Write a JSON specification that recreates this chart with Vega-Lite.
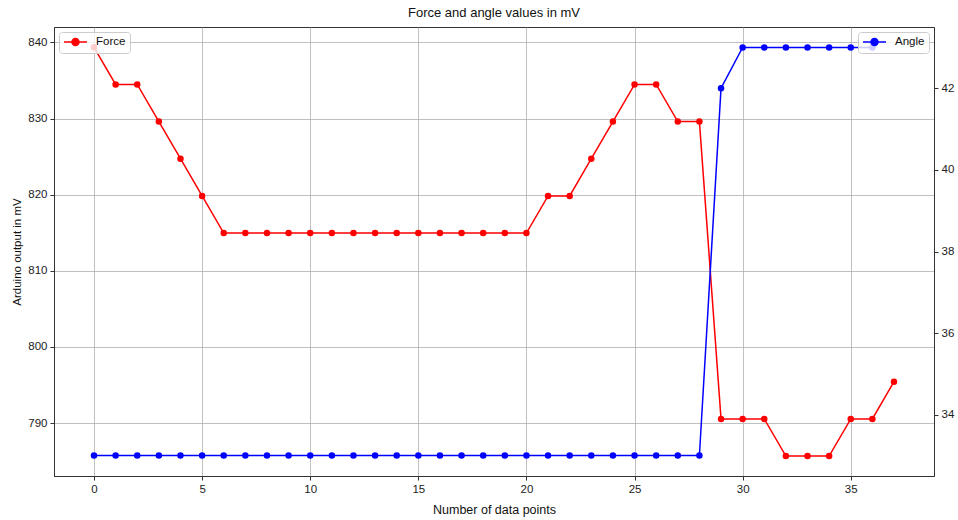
{
  "$schema": "https://vega.github.io/schema/vega-lite/v6.json",
  "width": 880,
  "height": 449,
  "autosize": {"type": "none"},
  "padding": {"left": 54, "top": 27, "right": 24, "bottom": 44},
  "title": {"text": "Force and angle values in mV", "fontSize": 13, "fontWeight": "normal", "font": "Liberation Sans", "color": "#111111", "offset": 7},
  "config": {
    "view": {"stroke": "#333333", "strokeWidth": 1},
    "axis": {
      "labelFont": "Liberation Sans", "labelFontSize": 11.5, "labelColor": "#222222",
      "titleFont": "Liberation Sans", "titleFontWeight": "normal", "titleColor": "#111111",
      "tickColor": "#333333", "domainColor": "#333333", "tickSize": 4, "labelPadding": 3,
      "gridColor": "#b0b0b0", "gridWidth": 1, "gridOpacity": 0.8
    }
  },
  "data": {
    "values": [
      {"n": 0, "force": 839.36, "angle": 33},
      {"n": 1, "force": 834.48, "angle": 33},
      {"n": 2, "force": 834.48, "angle": 33},
      {"n": 3, "force": 829.6, "angle": 33},
      {"n": 4, "force": 824.72, "angle": 33},
      {"n": 5, "force": 819.84, "angle": 33},
      {"n": 6, "force": 814.96, "angle": 33},
      {"n": 7, "force": 814.96, "angle": 33},
      {"n": 8, "force": 814.96, "angle": 33},
      {"n": 9, "force": 814.96, "angle": 33},
      {"n": 10, "force": 814.96, "angle": 33},
      {"n": 11, "force": 814.96, "angle": 33},
      {"n": 12, "force": 814.96, "angle": 33},
      {"n": 13, "force": 814.96, "angle": 33},
      {"n": 14, "force": 814.96, "angle": 33},
      {"n": 15, "force": 814.96, "angle": 33},
      {"n": 16, "force": 814.96, "angle": 33},
      {"n": 17, "force": 814.96, "angle": 33},
      {"n": 18, "force": 814.96, "angle": 33},
      {"n": 19, "force": 814.96, "angle": 33},
      {"n": 20, "force": 814.96, "angle": 33},
      {"n": 21, "force": 819.84, "angle": 33},
      {"n": 22, "force": 819.84, "angle": 33},
      {"n": 23, "force": 824.72, "angle": 33},
      {"n": 24, "force": 829.6, "angle": 33},
      {"n": 25, "force": 834.48, "angle": 33},
      {"n": 26, "force": 834.48, "angle": 33},
      {"n": 27, "force": 829.6, "angle": 33},
      {"n": 28, "force": 829.6, "angle": 33},
      {"n": 29, "force": 790.56, "angle": 42},
      {"n": 30, "force": 790.56, "angle": 43},
      {"n": 31, "force": 790.56, "angle": 43},
      {"n": 32, "force": 785.68, "angle": 43},
      {"n": 33, "force": 785.68, "angle": 43},
      {"n": 34, "force": 785.68, "angle": 43},
      {"n": 35, "force": 790.56, "angle": 43},
      {"n": 36, "force": 790.56, "angle": 43},
      {"n": 37, "force": 795.44, "angle": null}
    ]
  },
  "encoding": {
    "x": {
      "field": "n", "type": "quantitative",
      "scale": {"domain": [-1.85, 38.85], "nice": false, "zero": false},
      "axis": {"values": [0, 5, 10, 15, 20, 25, 30, 35], "grid": true, "title": "Number of data points", "titleFontSize": 12.5, "titlePadding": 9}
    }
  },
  "layer": [
    {
      "mark": {"type": "line", "strokeWidth": 1.5, "point": {"filled": true, "size": 42}},
      "encoding": {
        "y": {
          "field": "force", "type": "quantitative",
          "scale": {"domain": [783.06, 842.02], "nice": false, "zero": false},
          "axis": {"orient": "left", "values": [790, 800, 810, 820, 830, 840], "grid": true, "title": "Arduino output in mV", "titleFontSize": 11.5, "titlePadding": 5}
        },
        "color": {
          "datum": "Force",
          "scale": {"domain": ["Force"], "range": ["#ff0000"]},
          "legend": {
            "title": null, "orient": "top-left", "offset": 5, "padding": 4,
            "fillColor": "rgba(255,255,255,0.8)", "strokeColor": "#cccccc", "cornerRadius": 3,
            "labelFont": "Liberation Sans", "labelFontSize": 11.5, "labelColor": "#111111",
            "symbolType": "M-1,0H3.6M2,0A0.7,0.7 0 1 1 0.6,0A0.7,0.7 0 1 1 2,0Z",
            "symbolSize": 100, "symbolStrokeWidth": 1.5,
            "symbolFillColor": "#ff0000", "symbolStrokeColor": "#ff0000", "labelOffset": 21
          }
        }
      }
    },
    {
      "mark": {"type": "line", "strokeWidth": 1.5, "point": {"filled": true, "size": 42}},
      "encoding": {
        "y": {
          "field": "angle", "type": "quantitative",
          "scale": {"domain": [32.5, 43.5], "nice": false, "zero": false},
          "axis": {"orient": "right", "values": [34, 36, 38, 40, 42], "grid": false, "title": null}
        },
        "color": {
          "datum": "Angle",
          "scale": {"domain": ["Angle"], "range": ["#0000ff"]},
          "legend": {
            "title": null, "orient": "top-right", "offset": 5, "padding": 4,
            "fillColor": "rgba(255,255,255,0.8)", "strokeColor": "#cccccc", "cornerRadius": 3,
            "labelFont": "Liberation Sans", "labelFontSize": 11.5, "labelColor": "#111111",
            "symbolType": "M-1,0H3.6M2,0A0.7,0.7 0 1 1 0.6,0A0.7,0.7 0 1 1 2,0Z",
            "symbolSize": 100, "symbolStrokeWidth": 1.5,
            "symbolFillColor": "#0000ff", "symbolStrokeColor": "#0000ff", "labelOffset": 21
          }
        }
      }
    }
  ],
  "resolve": {"scale": {"y": "independent", "color": "independent"}, "legend": {"color": "independent"}}
}
